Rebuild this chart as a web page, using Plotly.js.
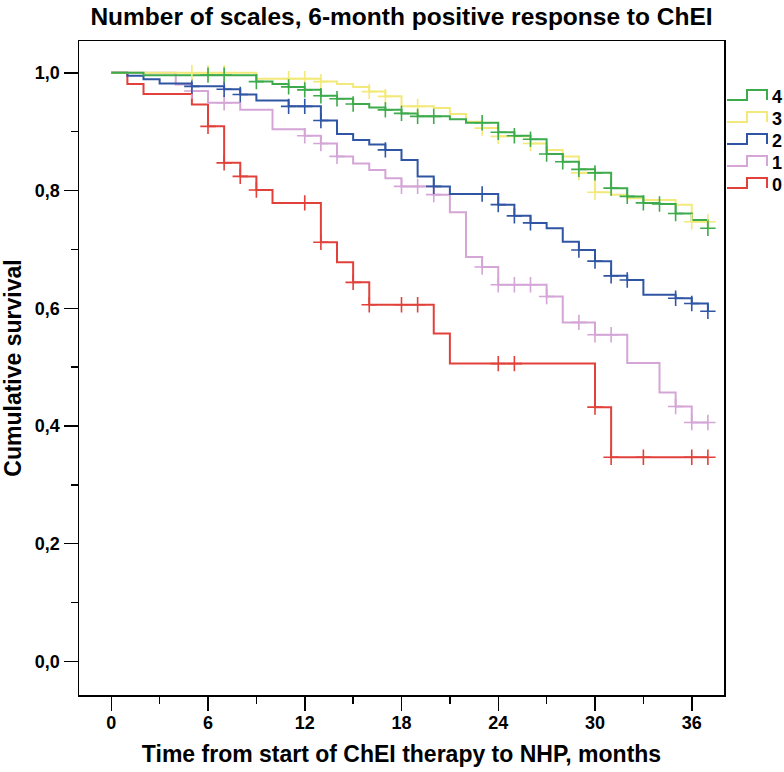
<!DOCTYPE html>
<html>
<head>
<meta charset="utf-8">
<script src="https://cdn.plot.ly/plotly-3.0.1.min.js"></script>
<style>html,body{margin:0;padding:0;background:#fff;}#chart{width:784px;height:772px;}</style>
</head>
<body>
<div id="chart"></div>
<script>
// ---------- data ----------
const groupNames = ["0", "1", "2", "3", "4"];
const followUpEnd = 37;

const red_t = [0, 1, 2, 5, 6, 7, 8, 9, 10, 13, 14, 15, 16, 20, 21, 30, 31];
const red_s = [1.0, 0.981, 0.964, 0.946, 0.909, 0.847, 0.824, 0.801, 0.779, 0.712, 0.678, 0.644, 0.606, 0.557, 0.506, 0.432, 0.347];
const red_c = [6, 7, 8, 9, 12, 13, 15, 16, 18, 19, 24, 25, 30, 31, 33, 36, 37];

const pink_t = [0, 4, 5, 6, 8, 10, 12, 13, 14, 15, 16, 17, 18, 20, 21, 22, 23, 24, 27, 28, 30, 32, 34, 35, 36];
const pink_s = [1.0, 0.980, 0.969, 0.949, 0.937, 0.904, 0.893, 0.880, 0.858, 0.846, 0.835, 0.821, 0.807, 0.793, 0.763, 0.687, 0.670, 0.640, 0.620, 0.576, 0.555, 0.507, 0.457, 0.433, 0.406];
const pink_c = [5, 7, 12, 13, 14, 18, 19, 20, 23, 24, 25, 26, 27, 29, 30, 31, 35, 36, 37];

const blue_t = [0, 1, 2, 3, 5, 7, 8, 9, 11, 13, 14, 15, 16, 17, 18, 19, 20, 21, 24, 25, 26, 27, 28, 29, 30, 31, 32, 33, 35, 36, 37];
const blue_s = [1.0, 0.995, 0.989, 0.982, 0.977, 0.972, 0.963, 0.953, 0.943, 0.919, 0.896, 0.886, 0.878, 0.869, 0.852, 0.824, 0.807, 0.794, 0.776, 0.757, 0.745, 0.736, 0.713, 0.699, 0.680, 0.655, 0.648, 0.623, 0.617, 0.608, 0.595];
const blue_c = [5, 7, 8, 11, 12, 13, 17, 20, 23, 24, 25, 26, 29, 30, 31, 32, 35, 36, 37];

const yellow_t = [0, 9, 13, 14, 15, 16, 17, 18, 20, 21, 22, 23, 24, 26, 27, 28, 29, 30, 31, 32, 33, 35, 36];
const yellow_s = [1.0, 0.990, 0.985, 0.981, 0.976, 0.968, 0.960, 0.943, 0.940, 0.930, 0.917, 0.906, 0.892, 0.880, 0.869, 0.858, 0.830, 0.797, 0.793, 0.787, 0.784, 0.776, 0.747];
const yellow_c = [5, 6, 7, 11, 12, 13, 16, 17, 19, 23, 24, 26, 29, 30, 36, 37];

const green_t = [0, 2, 9, 10, 11, 12, 13, 14, 15, 16, 17, 18, 19, 21, 22, 24, 25, 26, 27, 28, 29, 30, 31, 32, 33, 34, 35, 36, 37];
const green_s = [1.0, 0.996, 0.985, 0.981, 0.976, 0.971, 0.961, 0.956, 0.947, 0.941, 0.937, 0.931, 0.926, 0.921, 0.915, 0.899, 0.893, 0.887, 0.862, 0.849, 0.836, 0.830, 0.804, 0.790, 0.779, 0.777, 0.761, 0.750, 0.736];
const green_c = [6, 7, 9, 11, 12, 13, 14, 15, 17, 18, 19, 20, 23, 24, 25, 26, 27, 28, 29, 30, 31, 32, 33, 34, 35, 37];

const xTickVals = [0, 6, 12, 18, 24, 30, 36];
const yTickVals = [0, 0.2, 0.4, 0.6, 0.8, 1.0];

// ---------- styling ----------
const FONT = "Liberation Sans, Arial, Helvetica, sans-serif";
const groups = [
  {name: groupNames[0], t: red_t, s: red_s, c: red_c, color: "#e2413b"},
  {name: groupNames[1], t: pink_t, s: pink_s, c: pink_c, color: "#d4a5d6"},
  {name: groupNames[2], t: blue_t, s: blue_s, c: blue_c, color: "#2f55a4"},
  {name: groupNames[3], t: yellow_t, s: yellow_s, c: yellow_c, color: "#f3e97a"},
  {name: groupNames[4], t: green_t, s: green_s, c: green_c, color: "#3dab4c"}
];

function survAt(t, s, time) {
  let v = s[0];
  for (let i = 0; i < t.length; i++) { if (t[i] <= time) v = s[i]; }
  return v;
}

const traces = [];
groups.forEach(g => {
  const x = g.t.slice(), y = g.s.slice();
  if (x[x.length - 1] < followUpEnd) { x.push(followUpEnd); y.push(y[y.length - 1]); }
  traces.push({
    x: x, y: y, type: "scatter", mode: "lines", name: g.name,
    line: {shape: "hv", color: g.color, width: 2}, hoverinfo: "skip", showlegend: false
  });
});
groups.forEach(g => {
  traces.push({
    x: g.c, y: g.c.map(tc => survAt(g.t, g.s, tc)), type: "scatter", mode: "markers",
    name: g.name + " censored",
    marker: {symbol: "cross-thin", size: 11, color: g.color, line: {color: g.color, width: 1.6}},
    hoverinfo: "skip", showlegend: false
  });
});

// ---------- layout ----------
const W = 784, H = 772;
const M = {l: 79, r: 60, t: 41, b: 77};
const pw = W - M.l - M.r, ph = H - M.t - M.b;
const pxX = px => (px - M.l) / pw;
const pxY = py => (H - M.b - py) / ph;

const shapes = [], annotations = [];
const legendOrder = [4, 3, 2, 1, 0];
legendOrder.forEach((gi, k) => {
  const cy = 100 + k * 22;
  const g = groups[gi];
  shapes.push({
    type: "path", xref: "paper", yref: "paper",
    path: "M " + pxX(727) + " " + pxY(cy) + " L " + pxX(747) + " " + pxY(cy) +
          " L " + pxX(747) + " " + pxY(cy - 10) + " L " + pxX(767) + " " + pxY(cy - 10) +
          " L " + pxX(767) + " " + pxY(cy),
    line: {color: g.color, width: 2}
  });
  annotations.push({
    xref: "paper", yref: "paper", x: pxX(770), y: pxY(cy - 3), xanchor: "left", yanchor: "middle",
    text: g.name, showarrow: false, font: {family: FONT, size: 18, color: "#000", weight: "bold"}
  });
});

const axisCommon = {
  showgrid: false, zeroline: false, showline: true, mirror: true,
  linecolor: "#000", linewidth: 1.5, ticks: "outside", ticklen: 14, tickwidth: 1.5, tickcolor: "#000",
  tickfont: {family: FONT, size: 18, color: "#000", weight: "bold"}, fixedrange: true
};

const layout = {
  width: W, height: H, margin: M, paper_bgcolor: "#fff", plot_bgcolor: "#fff",
  separators: ",.", showlegend: false,
  title: {text: "Number of scales, 6-month positive response to ChEI", x: 0.5, xref: "paper", xanchor: "center",
          y: 1 - 16 / H, yref: "container", yanchor: "middle",
          font: {family: FONT, size: 24.5, color: "#000", weight: "bold"}},
  xaxis: Object.assign({}, axisCommon, {
    range: [-2, 38], tickmode: "array", tickvals: xTickVals, ticklabelstandoff: -3,
    minor: {dtick: 3, tick0: 0, ticks: "outside", ticklen: 7, tickwidth: 1.5, tickcolor: "#000", showgrid: false},
    title: {text: "Time from start of ChEI therapy to NHP, months", standoff: 14,
            font: {family: FONT, size: 23, color: "#000", weight: "bold"}}
  }),
  yaxis: Object.assign({}, axisCommon, {
    range: [-0.057, 1.054], tickmode: "array", tickvals: yTickVals, tickformat: ".1f",
    minor: {dtick: 0.1, tick0: 0, ticks: "outside", ticklen: 7, tickwidth: 1.5, tickcolor: "#000", showgrid: false},
    title: {text: "Cumulative survival", standoff: 16,
            font: {family: FONT, size: 23, color: "#000", weight: "bold"}}
  }),
  shapes: shapes, annotations: annotations
};

Plotly.newPlot("chart", traces, layout, {displayModeBar: false, staticPlot: true});
</script>
</body>
</html>
